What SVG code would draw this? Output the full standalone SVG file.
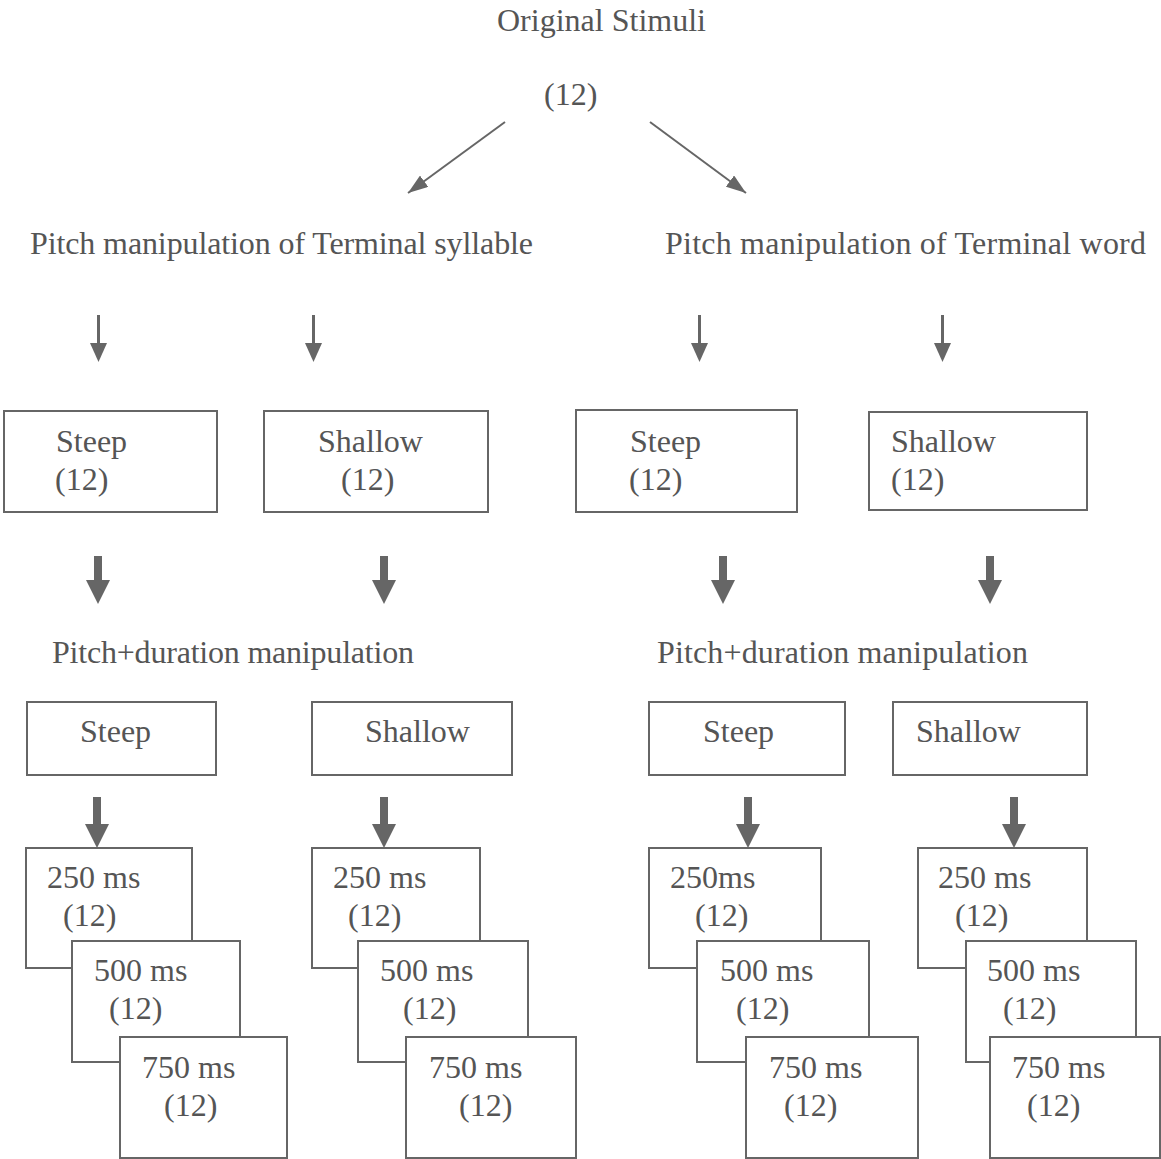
<svg xmlns="http://www.w3.org/2000/svg" width="1161" height="1159" viewBox="0 0 1161 1159">
<defs>
<style>
text{font-family:"Liberation Serif","Times New Roman",serif;font-size:32px;fill:#555}
rect{fill:#fff;stroke:#666;stroke-width:2}
.ln{stroke:#666;stroke-width:2;fill:none}
.ah{fill:#666}
</style>
<marker id="tri2" viewBox="0 0 20 14" refX="20" refY="7" markerWidth="20" markerHeight="14" orient="auto" markerUnits="userSpaceOnUse">
<path d="M0,0 L20,7 L0,14 z" fill="#666"/>
</marker>
</defs>
<rect x="0" y="0" width="1161" height="1159" style="fill:#fff;stroke:none"/>
<g id="connectors">
<line class="ln" x1="505" y1="122" x2="408" y2="193" marker-end="url(#tri2)"/>
<line class="ln" x1="650" y1="122" x2="746" y2="193" marker-end="url(#tri2)"/>
<g class="ah">
<rect x="97" y="315" width="3" height="30" style="fill:#666;stroke:none"/><polygon points="90,343 107,343 98.5,362"/>
<rect x="312" y="315" width="3" height="30" style="fill:#666;stroke:none"/><polygon points="305,343 322,343 313.5,362"/>
<rect x="698" y="315" width="3" height="30" style="fill:#666;stroke:none"/><polygon points="691,343 708,343 699.5,362"/>
<rect x="941" y="315" width="3" height="30" style="fill:#666;stroke:none"/><polygon points="934,343 951,343 942.5,362"/>
</g>
<g class="ah">
<polygon points="94,556 102,556 102,580 110,580 98,604 86,580 94,580"/>
<polygon points="380,556 388,556 388,580 396,580 384,604 372,580 380,580"/>
<polygon points="719,556 727,556 727,580 735,580 723,604 711,580 719,580"/>
<polygon points="986,556 994,556 994,580 1002,580 990,604 978,580 986,580"/>
</g>
<g class="ah">
<polygon points="93,797 101,797 101,824 109,824 97,848 85,824 93,824"/>
<polygon points="380,797 388,797 388,824 396,824 384,848 372,824 380,824"/>
<polygon points="744,797 752,797 752,824 760,824 748,848 736,824 744,824"/>
<polygon points="1010,797 1018,797 1018,824 1026,824 1014,848 1002,824 1010,824"/>
</g>
</g>
<g id="title"><text x="497" y="31" textLength="209" lengthAdjust="spacing">Original Stimuli</text><text x="544" y="105">(12)</text></g>
<g id="heading-syllable"><text x="30" y="254" textLength="503" lengthAdjust="spacing">Pitch manipulation of Terminal syllable</text></g>
<g id="heading-word"><text x="665" y="254" textLength="481" lengthAdjust="spacing">Pitch manipulation of Terminal word</text></g>
<g id="syl-steep"><rect x="4" y="411" width="213" height="101"/><text x="56" y="452">Steep</text><text x="55" y="490">(12)</text></g>
<g id="syl-shallow"><rect x="264" y="411" width="224" height="101"/><text x="318" y="452">Shallow</text><text x="341" y="490">(12)</text></g>
<g id="word-steep"><rect x="576" y="410" width="221" height="102"/><text x="630" y="452">Steep</text><text x="629" y="490">(12)</text></g>
<g id="word-shallow"><rect x="869" y="412" width="218" height="98"/><text x="891" y="452">Shallow</text><text x="891" y="490">(12)</text></g>
<g id="pd-left"><text x="52" y="663" textLength="362" lengthAdjust="spacing">Pitch+duration manipulation</text></g>
<g id="pd-right"><text x="657" y="663" textLength="371" lengthAdjust="spacing">Pitch+duration manipulation</text></g>
<g id="pd-syl-steep"><rect x="27" y="702" width="189" height="73"/><text x="80" y="742">Steep</text></g>
<g id="pd-syl-shallow"><rect x="312" y="702" width="200" height="73"/><text x="365" y="742">Shallow</text></g>
<g id="pd-word-steep"><rect x="649" y="702" width="196" height="73"/><text x="703" y="742">Steep</text></g>
<g id="pd-word-shallow"><rect x="893" y="702" width="194" height="73"/><text x="916" y="742">Shallow</text></g>
<g id="g1-250"><rect x="26" y="848" width="166" height="120"/><text x="47" y="888">250 ms</text><text x="63" y="926">(12)</text></g>
<g id="g1-500"><rect x="72" y="941" width="168" height="121"/><text x="94" y="981">500 ms</text><text x="109" y="1019">(12)</text></g>
<g id="g1-750"><rect x="120" y="1037" width="167" height="121"/><text x="142" y="1078">750 ms</text><text x="164" y="1116">(12)</text></g>
<g id="g2-250"><rect x="312" y="848" width="168" height="120"/><text x="333" y="888">250 ms</text><text x="348" y="926">(12)</text></g>
<g id="g2-500"><rect x="358" y="941" width="170" height="121"/><text x="380" y="981">500 ms</text><text x="403" y="1019">(12)</text></g>
<g id="g2-750"><rect x="406" y="1037" width="170" height="121"/><text x="429" y="1078">750 ms</text><text x="459" y="1116">(12)</text></g>
<g id="g3-250"><rect x="649" y="848" width="172" height="120"/><text x="670" y="888">250ms</text><text x="695" y="926">(12)</text></g>
<g id="g3-500"><rect x="697" y="941" width="172" height="121"/><text x="720" y="981">500 ms</text><text x="736" y="1019">(12)</text></g>
<g id="g3-750"><rect x="746" y="1037" width="172" height="121"/><text x="769" y="1078">750 ms</text><text x="784" y="1116">(12)</text></g>
<g id="g4-250"><rect x="918" y="848" width="169" height="120"/><text x="938" y="888">250 ms</text><text x="955" y="926">(12)</text></g>
<g id="g4-500"><rect x="966" y="941" width="170" height="121"/><text x="987" y="981">500 ms</text><text x="1003" y="1019">(12)</text></g>
<g id="g4-750"><rect x="990" y="1037" width="170" height="121"/><text x="1012" y="1078">750 ms</text><text x="1027" y="1116">(12)</text></g>
</svg>
